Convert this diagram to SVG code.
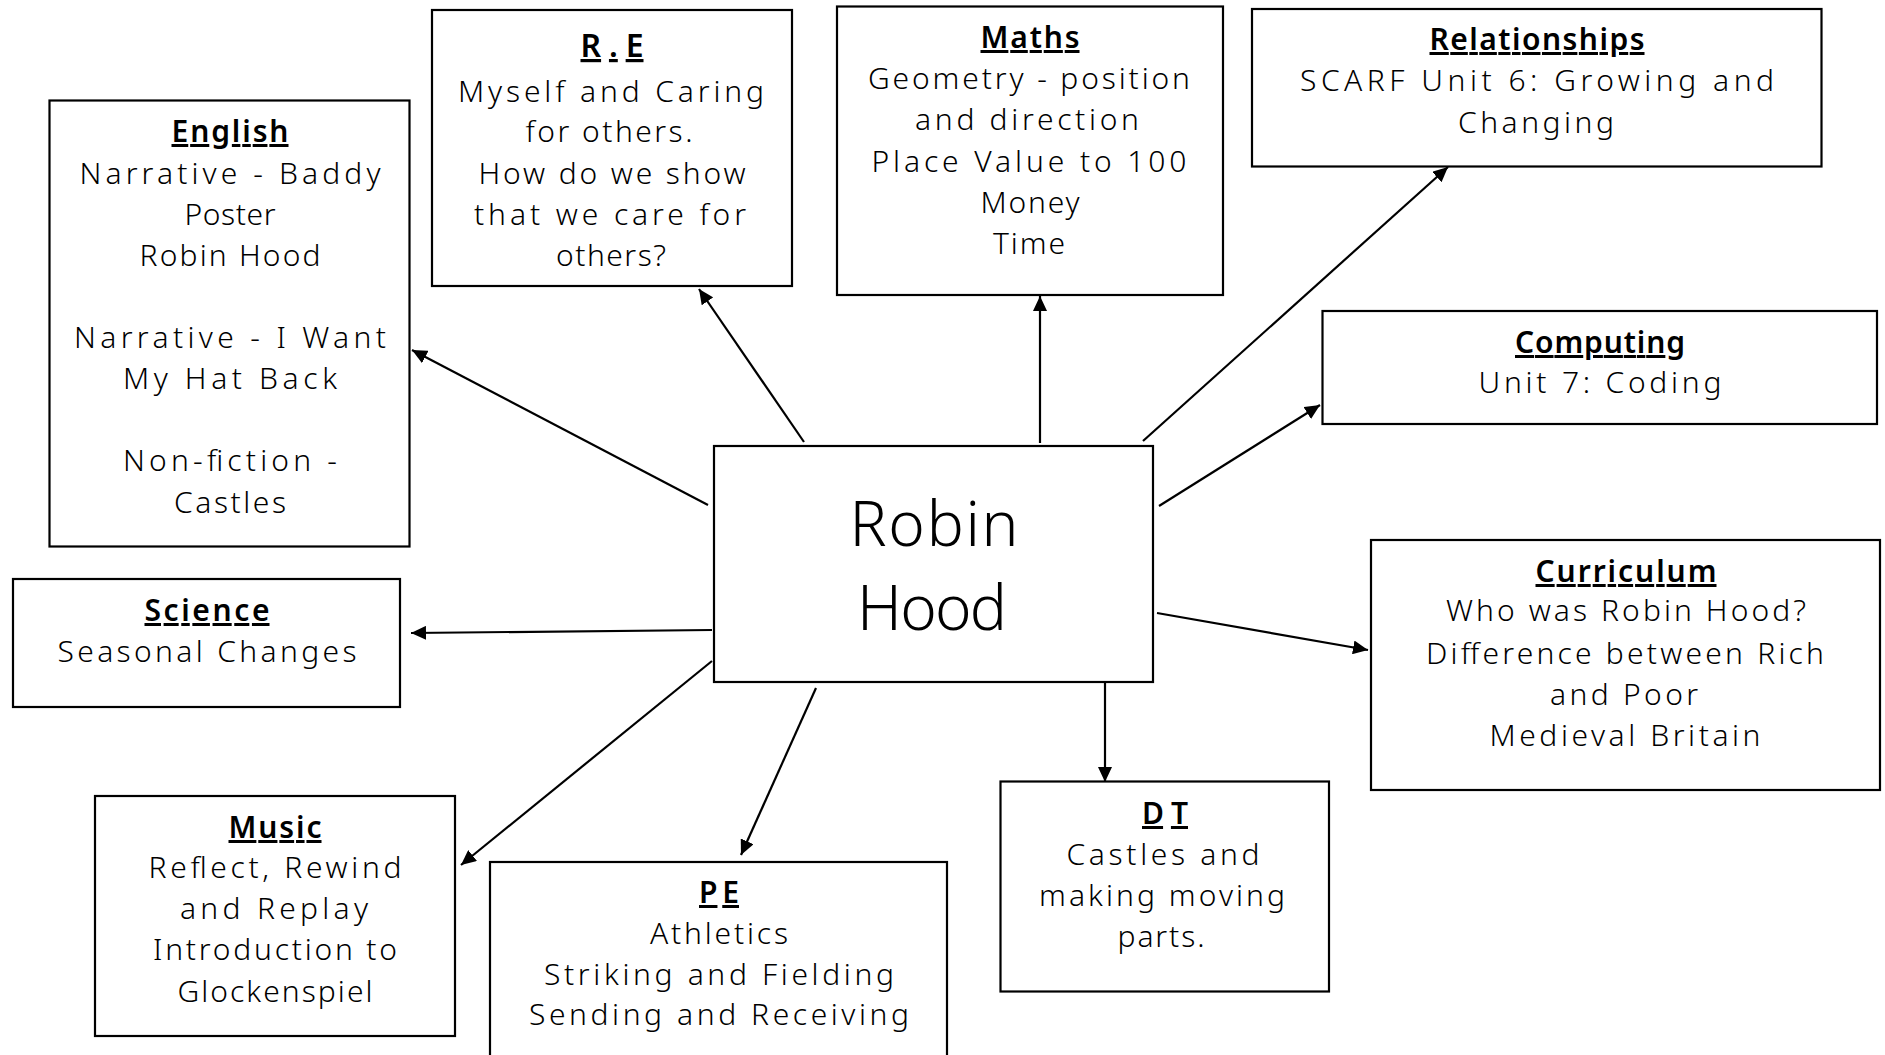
<svg xmlns="http://www.w3.org/2000/svg" width="1885" height="1055" viewBox="0 0 1885 1055">
<style>
.box{fill:#fff;stroke:#000;stroke-width:2.2}
.t{font-family:"Noto Sans","DejaVu Sans",sans-serif;font-size:30px;font-weight:300;fill:#000;text-anchor:middle}
.h{font-weight:600;text-decoration:underline}
.big{font-size:62px}
.con line{stroke:#000;stroke-width:2.2;marker-end:url(#ah)}
</style>
<defs>
<marker id="ah" markerUnits="userSpaceOnUse" markerWidth="16" markerHeight="14" refX="15" refY="7" orient="auto">
<path d="M0,0 L15,7 L0,14 Z" fill="#000"/>
</marker>
</defs>
<rect width="1885" height="1055" fill="#fff"/>
<g id="connectors" class="con">
<line x1="708" y1="505" x2="412" y2="350"/>
<line x1="804" y1="442" x2="699" y2="289"/>
<line x1="1040" y1="443" x2="1040" y2="296"/>
<line x1="1143" y1="441" x2="1448" y2="167"/>
<line x1="1159" y1="506" x2="1320" y2="405"/>
<line x1="1157" y1="613" x2="1368" y2="650"/>
<line x1="1105" y1="679" x2="1105" y2="782"/>
<line x1="816" y1="688" x2="741" y2="855"/>
<line x1="712" y1="661" x2="461" y2="865"/>
<line x1="712" y1="630" x2="411" y2="633"/>
</g>
<g id="center">
<rect class="box" x="714" y="446" width="439" height="236"/>
<text class="t big" x="934" y="546" textLength="169" lengthAdjust="spacing">Robin</text>
<text class="t big" x="932" y="630" textLength="150" lengthAdjust="spacing">Hood</text>
</g>
<g id="english">
<rect class="box" x="49.5" y="100.5" width="360" height="446"/>
<text class="t h" x="230" y="142" textLength="117" lengthAdjust="spacing">English</text>
<text class="t" x="230" y="184" textLength="301" lengthAdjust="spacing">Narrative - Baddy</text>
<text class="t" x="230" y="225" textLength="91" lengthAdjust="spacing">Poster</text>
<text class="t" x="230" y="266" textLength="181" lengthAdjust="spacing">Robin Hood</text>
<text class="t" x="230" y="348" textLength="312" lengthAdjust="spacing">Narrative - I Want</text>
<text class="t" x="230" y="389" textLength="214" lengthAdjust="spacing">My Hat Back</text>
<text class="t" x="230" y="471" textLength="214" lengthAdjust="spacing">Non-fiction -</text>
<text class="t" x="230" y="513" textLength="112" lengthAdjust="spacing">Castles</text>
</g>
<g id="re">
<rect class="box" x="432" y="10" width="360" height="276"/>
<text class="t h" x="612" y="57" style="font-size:32px" textLength="63" lengthAdjust="spacing">R.E</text>
<text class="t" x="611" y="102" textLength="306" lengthAdjust="spacing">Myself and Caring</text>
<text class="t" x="609" y="142" textLength="167" lengthAdjust="spacing">for others.</text>
<text class="t" x="612" y="184" textLength="267" lengthAdjust="spacing">How do we show</text>
<text class="t" x="610" y="225" textLength="272" lengthAdjust="spacing">that we care for</text>
<text class="t" x="611" y="266" textLength="110" lengthAdjust="spacing">others?</text>
</g>
<g id="maths">
<rect class="box" x="837" y="6.5" width="386" height="288.5"/>
<text class="t h" x="1030" y="48" textLength="99" lengthAdjust="spacing">Maths</text>
<text class="t" x="1029" y="89" textLength="322" lengthAdjust="spacing">Geometry - position</text>
<text class="t" x="1027" y="130" textLength="224" lengthAdjust="spacing">and direction</text>
<text class="t" x="1029" y="172" textLength="315" lengthAdjust="spacing">Place Value to 100</text>
<text class="t" x="1030" y="213" textLength="99" lengthAdjust="spacing">Money</text>
<text class="t" x="1029" y="254" textLength="72" lengthAdjust="spacing">Time</text>
</g>
<g id="relationships">
<rect class="box" x="1252" y="9" width="569.5" height="157.5"/>
<text class="t h" x="1537" y="50" textLength="215" lengthAdjust="spacing">Relationships</text>
<text class="t" x="1537" y="91" textLength="474" lengthAdjust="spacing">SCARF Unit 6: Growing and</text>
<text class="t" x="1536" y="133" textLength="156" lengthAdjust="spacing">Changing</text>
</g>
<g id="computing">
<rect class="box" x="1322.5" y="311" width="554.5" height="113"/>
<text class="t h" x="1600" y="353" textLength="170" lengthAdjust="spacing">Computing</text>
<text class="t" x="1600" y="393" textLength="243" lengthAdjust="spacing">Unit 7: Coding</text>
</g>
<g id="curriculum">
<rect class="box" x="1371" y="540" width="509" height="250"/>
<text class="t h" x="1626" y="582" textLength="181" lengthAdjust="spacing">Curriculum</text>
<text class="t" x="1626" y="621" textLength="360" lengthAdjust="spacing">Who was Robin Hood?</text>
<text class="t" x="1625" y="664" textLength="398" lengthAdjust="spacing">Difference between Rich</text>
<text class="t" x="1624" y="705" textLength="148" lengthAdjust="spacing">and Poor</text>
<text class="t" x="1625" y="746" textLength="271" lengthAdjust="spacing">Medieval Britain</text>
</g>
<g id="dt">
<rect class="box" x="1000.5" y="781.5" width="328.5" height="210"/>
<text class="t h" x="1165" y="824" textLength="46" lengthAdjust="spacing">DT</text>
<text class="t" x="1163" y="865" textLength="193" lengthAdjust="spacing">Castles and</text>
<text class="t" x="1162" y="906" textLength="246" lengthAdjust="spacing">making moving</text>
<text class="t" x="1161" y="947" textLength="87" lengthAdjust="spacing">parts.</text>
</g>
<g id="pe">
<rect class="box" x="490" y="862" width="457" height="210"/>
<text class="t h" x="719" y="903" textLength="40" lengthAdjust="spacing">PE</text>
<text class="t" x="719" y="944" textLength="138" lengthAdjust="spacing">Athletics</text>
<text class="t" x="719" y="985" textLength="350" lengthAdjust="spacing">Striking and Fielding</text>
<text class="t" x="719" y="1025" textLength="380" lengthAdjust="spacing">Sending and Receiving</text>
</g>
<g id="music">
<rect class="box" x="95" y="796" width="360" height="240"/>
<text class="t h" x="275" y="838" textLength="93" lengthAdjust="spacing">Music</text>
<text class="t" x="275" y="878" textLength="253" lengthAdjust="spacing">Reflect, Rewind</text>
<text class="t" x="274" y="919" textLength="188" lengthAdjust="spacing">and Replay</text>
<text class="t" x="275" y="960" textLength="244" lengthAdjust="spacing">Introduction to</text>
<text class="t" x="275" y="1002" textLength="195" lengthAdjust="spacing">Glockenspiel</text>
</g>
<g id="science">
<rect class="box" x="13" y="579" width="387" height="128"/>
<text class="t h" x="207" y="621" textLength="125" lengthAdjust="spacing">Science</text>
<text class="t" x="207" y="662" textLength="299" lengthAdjust="spacing">Seasonal Changes</text>
</g>
</svg>
